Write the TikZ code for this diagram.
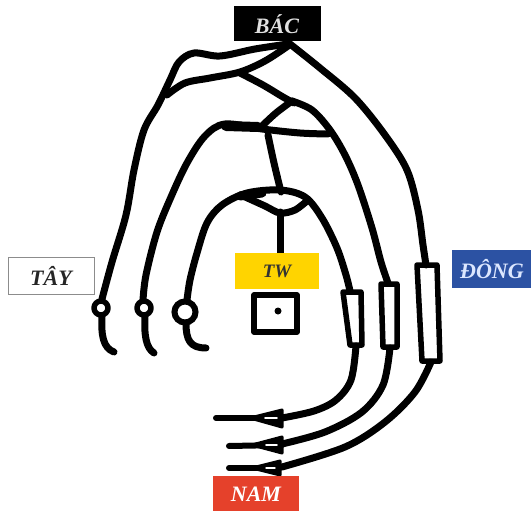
\documentclass[tikz,border=0pt]{standalone}
\usepackage{fontspec}
\setmainfont{Liberation Serif}
\begin{document}
\definecolor{twyellow}{HTML}{FFD400}
\definecolor{dongblue}{HTML}{2C52A3}
\definecolor{namred}{HTML}{E5412B}
\definecolor{dongtext}{HTML}{DCE7FF}
\begin{tikzpicture}[x=1pt,y=-1pt,
  stroke/.style={line width=7pt,line cap=round,line join=round},
  thin stroke/.style={line width=5.5pt,line cap=round,line join=round},
  lbl/.style={font=\fontsize{22}{22}\selectfont\bfseries\itshape,inner sep=0pt,anchor=center},
  hand/.style={smooth,tension=0.55},
  arrowhead/.style={draw=black,fill=black,line width=3pt,line join=round}]
\useasboundingbox (0,0) rectangle (531,511);

% outer arch: left strand from the top down to the west
\draw[stroke] plot[hand] coordinates {(288,44) (255,49) (220,56) (194,53) (179,62) (170,80) (158,105) (144,130) (134,170) (126,215) (112,262) (102,299)};
% lower strand of the top loop
\draw[stroke] plot[hand] coordinates {(288,46) (265,61) (240,72) (210,78) (185,83) (167,95)};
% branch to the middle arch
\draw[stroke] plot[hand] coordinates {(240,73) (263,85) (283,97) (294,103)};
\draw[stroke] plot[hand] coordinates {(292,101) (312,110) (330,130) (345,155) (358,185) (372,228) (381,262) (388,283)};
\draw[stroke] plot[hand] coordinates {(292,101) (276,113) (262,126)};
% outer arch: right strand
\draw[stroke] plot[hand] coordinates {(290,44) (320,68) (355,98) (385,135) (407,170) (418,210) (423,245) (426,265)};
% middle arch
\draw[stroke] plot[hand] coordinates {(328,134) (300,133) (262,129) (225,124) (205,136) (187,163) (171,197) (157,232) (146,275) (143,300)};
\draw[line width=10pt,line cap=round] (226,126) -- (258,127);
% stem down to the inner arch
\draw[stroke] plot[hand] coordinates {(268,135) (274,163) (281,192)};
% inner arch
\draw[stroke] plot[hand] coordinates {(187,300) (190,280) (197,253) (207,223) (222,205) (247,193) (280,190) (305,197) (322,218) (337,248) (346,275) (350,291)};
\draw[line width=9pt,line cap=round] (240,196) -- (262,193);
\draw[stroke] plot[hand] coordinates {(243,196) (265,206) (280,213) (295,210) (308,200)};
\draw[stroke] (280,212) -- (280,255);

% west ends: rings and hooks
\draw[thin stroke,fill=white] (101,308) circle (7);
\draw[thin stroke,fill=white] (144,308) circle (7);
\draw[line width=6pt,fill=white] (185,312) circle (10.5);
\draw[stroke] (102,316) .. controls (101,335) and (103,348) .. (114,352);
\draw[stroke] (145,316) .. controls (144,335) and (146,348) .. (154,353);
\draw[stroke] (186,323) .. controls (186,340) and (190,348) .. (206,348);

% east ends: sleeves
\draw[thin stroke] (343,292) -- (361,292) -- (362,345) -- (350,345) -- cycle;
\draw[thin stroke] (381,284) -- (397,284) -- (397,347) -- (383,347) -- cycle;
\draw[thin stroke] (417,265) -- (437,265) -- (440,361) -- (422,361) -- cycle;

% south strands
\draw[stroke] plot[hand] coordinates {(356,346) (351,380) (336,400) (314,411) (282,418)};
\draw[stroke] plot[hand] coordinates {(390,348) (383,385) (362,412) (325,432) (282,444)};
\draw[stroke] plot[hand] coordinates {(431,362) (415,392) (385,422) (345,447) (282,467)};

% arrow heads pointing west
\draw[stroke,line width=6pt] (216,418) -- (282,418);
\path[arrowhead] (250,418) -- (282,410) -- (282,427) -- cycle;
\draw[stroke,line width=6pt] (229,446) -- (282,445);
\path[arrowhead] (252,445) -- (282,437) -- (282,453) -- cycle;
\draw[stroke,line width=6pt] (229,468) -- (280,468);
\path[arrowhead] (252,468) -- (280,461) -- (280,475) -- cycle;
% narrow light slits inside the heads
\draw[white,line width=1.6pt,line cap=round] (265,418) -- (277,418);
\draw[white,line width=1.6pt,line cap=round] (266,445) -- (277,445);
\draw[white,line width=1.4pt,line cap=round] (266,468) -- (275,468);

% centre square with dot
\draw[line width=5.5pt,line join=round] (254,295) rectangle (297,332);
\fill (278,311) circle (3.5);

% labels
\node[fill=black,minimum width=87pt,minimum height=35pt,inner sep=0pt] (bac) at (277,24) {};
\node[lbl,text=white!88!black] at (bac) {BÁC};
\node[draw=black!45,line width=0.8pt,fill=white,minimum width=86pt,minimum height=37pt,inner sep=0pt] (tay) at (51,276) {};
\node[lbl,text=black!85] at (tay) {TÂY};
\node[fill=twyellow,minimum width=84pt,minimum height=36pt,inner sep=0pt] (tw) at (277,271) {};
\node[lbl,font=\fontsize{19}{19}\selectfont\bfseries\itshape,text=black!80] at (tw) {TW};
\node[fill=dongblue,minimum width=80pt,minimum height=38pt,inner sep=0pt] (dong) at (492,269) {};
\node[lbl,text=dongtext] at (dong) {ĐÔNG};
\node[fill=namred,minimum width=86pt,minimum height=37pt,inner sep=0pt] (nam) at (256,494) {};
\node[lbl,text=white] at (nam) {NAM};
\end{tikzpicture}
\end{document}
